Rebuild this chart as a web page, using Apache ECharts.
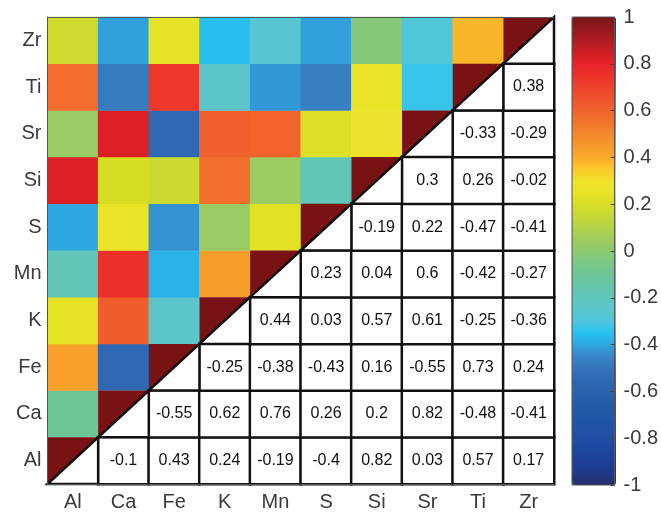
<!DOCTYPE html>
<html>
<head>
<meta charset="utf-8">
<script src="https://cdn.jsdelivr.net/npm/echarts@6/dist/echarts.min.js"></script>
<style>
  html, body { margin: 0; padding: 0; background: #fff; }
  #main { width: 661px; height: 512px; }
</style>
</head>
<body>
<div id="main"></div>
<script>
// variables, bottom->top on y, left->right on x
var vars = ['Al', 'Ca', 'Fe', 'K', 'Mn', 'S', 'Si', 'Sr', 'Ti', 'Zr'];

// correlation of each variable with the ones after it in vars
var rAl = [-0.1, 0.43, 0.24, -0.19, -0.4, 0.82, 0.03, 0.57, 0.17];
var rCa = [-0.55, 0.62, 0.76, 0.26, 0.2, 0.82, -0.48, -0.41];
var rFe = [-0.25, -0.38, -0.43, 0.16, -0.55, 0.73, 0.24];
var rK  = [0.44, 0.03, 0.57, 0.61, -0.25, -0.36];
var rMn = [0.23, 0.04, 0.6, -0.42, -0.27];
var rS  = [-0.19, 0.22, -0.47, -0.41];
var rSi = [0.3, 0.26, -0.02];
var rSr = [-0.33, -0.29];
var rTi = [0.38];
var rows = [rAl, rCa, rFe, rK, rMn, rS, rSi, rSr, rTi];

// colormap stops, -1 .. 1 every 0.05
var cmap = [
  '#262f6c', '#20388a', '#1c4096', '#1c489e', '#1e4ea3', '#2052a4', '#2257a7', '#265caa',
  '#2a62ad', '#2e68b2', '#3474bb', '#3a86c8', '#2fa6e0', '#26c4f2', '#50c6dc', '#5cc6cc',
  '#60c6bc', '#66c6aa', '#6cc698', '#7ac884', '#8cc970', '#a0cc5c', '#b4d248', '#c8d934',
  '#d8de24', '#e8e426', '#eee22a', '#fcc82a', '#f9aa2a', '#f69a2c', '#f4882c', '#f2742c',
  '#f0642c', '#ef522c', '#ee422c', '#ec322a', '#e82228', '#cc1e24', '#b01c22', '#941a1c',
  '#781416'
];

var colored = [];   // upper-left triangle
var numbers = [];   // lower-right triangle
var diag = [];
for (var i = 0; i < vars.length; i++) {
  diag.push([i, i]);
  var r = rows[i] || [];
  for (var k = 0; k < r.length; k++) {
    var j = i + 1 + k;
    numbers.push([j, i, r[k]]);
    colored.push([i, j, r[k]]);
  }
}

var font = '"Liberation Sans", Arial, sans-serif';
var grey = '#555';

var myChart = echarts.init(document.getElementById('main'));
myChart.setOption({
  animation: false,
  textStyle: { fontFamily: font },
  grid: [
    { left: 47.5, top: 17, width: 506.5, height: 468 },
    { left: 572, top: 17, width: 44, height: 468, show: true,
      borderColor: grey, borderWidth: 1, backgroundColor: 'transparent', z: 10 }
  ],
  xAxis: [
    {
      gridIndex: 0, type: 'category', data: vars, position: 'bottom', z: 10,
      axisLine: { lineStyle: { color: grey, width: 1 } },
      axisTick: { inside: true, alignWithLabel: true, length: 5, lineStyle: { color: grey } },
      axisLabel: { fontSize: 20, color: '#3a3a3a', margin: 8, fontFamily: font }
    },
    {
      gridIndex: 0, type: 'category', data: vars, position: 'top', z: 10,
      axisLine: { lineStyle: { color: grey, width: 1 } },
      axisTick: { inside: true, alignWithLabel: true, length: 5, lineStyle: { color: grey } },
      axisLabel: { show: false }
    },
    { gridIndex: 1, type: 'value', min: 0, max: 1, show: false }
  ],
  yAxis: [
    {
      gridIndex: 0, type: 'category', data: vars, position: 'left', z: 10,
      axisLine: { lineStyle: { color: grey, width: 1 } },
      axisTick: { inside: true, alignWithLabel: true, length: 5, lineStyle: { color: grey } },
      axisLabel: { fontSize: 20, color: '#3a3a3a', margin: 6, fontFamily: font }
    },
    {
      gridIndex: 1, type: 'value', min: -1, max: 1, interval: 0.2, position: 'right', z: 20,
      axisLine: { show: false, onZero: false },
      splitLine: { show: false },
      axisTick: { inside: true, length: 4, lineStyle: { color: '#444', width: 1 } },
      axisLabel: { fontSize: 20, color: '#3a3a3a', margin: 9, fontFamily: font }
    }
  ],
  visualMap: {
    type: 'continuous',
    min: -1, max: 1,
    seriesIndex: 0,
    dimension: 2,
    calculable: false,
    hoverLink: false,
    left: 572, top: 17,
    itemWidth: 44, itemHeight: 468,
    padding: 0,
    z: 4,
    inRange: { color: cmap }
  },
  series: [
    {
      type: 'heatmap', xAxisIndex: 0, yAxisIndex: 0,
      data: colored,
      emphasis: { disabled: true }
    },
    {
      type: 'heatmap', xAxisIndex: 0, yAxisIndex: 0,
      data: numbers,
      itemStyle: { color: '#fff', borderColor: '#111', borderWidth: 2.5 },
      label: {
        show: true, fontSize: 16, color: '#111', fontFamily: font,
        formatter: function (p) { return String(p.value[2]); }
      },
      emphasis: { disabled: true }
    },
    {
      type: 'custom', xAxisIndex: 0, yAxisIndex: 0,
      data: diag,
      renderItem: function (params, api) {
        var c = api.coord([api.value(0), api.value(1)]);
        var s = api.size([1, 1]);
        var x0 = c[0] - s[0] / 2, x1 = c[0] + s[0] / 2;
        var y0 = c[1] - s[1] / 2, y1 = c[1] + s[1] / 2;
        return {
          type: 'group',
          children: [
            { type: 'polygon', shape: { points: [[x0, y0], [x1, y0], [x0, y1]] },
              style: { fill: '#781214' } },
            { type: 'polygon', shape: { points: [[x1, y0], [x1, y1], [x0, y1]] },
              style: { fill: '#fff', stroke: '#111', lineWidth: 2.5 } }
          ]
        };
      }
    }
  ]
});
</script>
</body>
</html>
